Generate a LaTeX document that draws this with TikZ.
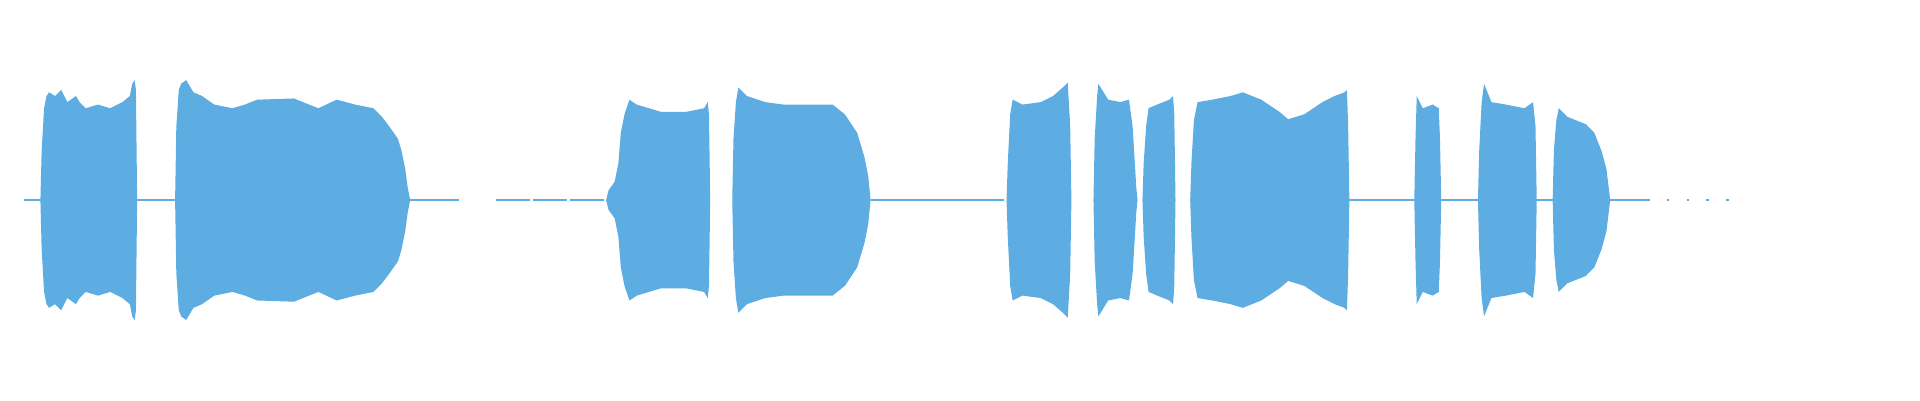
\documentclass[tikz,border=0pt]{standalone}
\definecolor{wave}{RGB}{93,172,226}
\begin{document}
\begin{tikzpicture}[x=0.01cm,y=0.01cm]
\useasboundingbox (0,0) rectangle (1568,327);
\def\blobs{%
(33,0)--(34,40)--(36,75)--(38,85)--(40,88)--(45,85)--(50,90)--(55,80)--(62,85)--(65,80)--(70,75)--(80,78)--(90,75)--(100,80)--(106,85)--(108,95)--(110,98)--(111,90)--(112,0)--cycle
(143,0)--(144,60)--(146,90)--(148,95)--(152,98)--(158,88)--(165,85)--(175,78)--(190,75)--(200,78)--(210,82)--(240,83)--(260,75)--(275,82)--(290,78)--(305,75)--(312,68)--(318,60)--(325,50)--(328,40)--(331,25)--(333,10)--(335,0)--cycle
(495,0)--(497,8)--(502,15)--(505,30)--(507,55)--(510,70)--(514,82)--(520,78)--(540,72)--(560,72)--(575,75)--(578,80)--(579,70)--(580,0)--cycle
(598,0)--(599,50)--(601,80)--(603,92)--(610,85)--(625,80)--(640,78)--(660,78)--(680,78)--(690,70)--(700,55)--(706,35)--(709,20)--(711,0)--cycle
(822,0)--(823,30)--(825,70)--(827,82)--(835,78)--(850,80)--(860,85)--(868,92)--(872,96)--(874,60)--(875,0)--cycle
(893,0)--(894,50)--(896,85)--(897,95)--(905,82)--(915,80)--(922,82)--(925,60)--(928,10)--(929,0)--cycle
(933,0)--(934,30)--(936,60)--(938,75)--(945,78)--(955,82)--(958,85)--(959,70)--(960,0)--cycle
(972,0)--(973,30)--(975,65)--(978,80)--(990,82)--(1005,85)--(1015,88)--(1030,82)--(1045,72)--(1052,66)--(1065,70)--(1080,80)--(1090,85)--(1098,88)--(1100,90)--(1101,60)--(1102,0)--cycle
(1155,0)--(1156,50)--(1157,85)--(1162,75)--(1170,78)--(1175,75)--(1176,50)--(1177,0)--cycle
(1207,0)--(1208,40)--(1210,80)--(1212,95)--(1218,80)--(1230,78)--(1245,75)--(1252,80)--(1254,60)--(1255,0)--cycle
(1268,0)--(1269,40)--(1271,65)--(1273,75)--(1280,68)--(1295,62)--(1302,55)--(1308,40)--(1312,25)--(1315,0)--cycle}
\begin{scope}[yshift=1.635cm]
\fill[wave] \blobs;
\begin{scope}[yscale=-1]\fill[wave] \blobs;\end{scope}
\draw[wave,line width=0.5pt] (20,0)--(375,0);
\draw[wave,line width=0.5pt,dash pattern=on 8pt off 0.6pt] (405,0)--(495,0);
\draw[wave,line width=0.5pt] (711,0)--(820,0) (1102,0)--(1345,0);
\draw[wave,line width=0.5pt,dash pattern=on 0.6pt off 4pt] (1345,0)--(1413,0);
\end{scope}
\end{tikzpicture}
\end{document}
